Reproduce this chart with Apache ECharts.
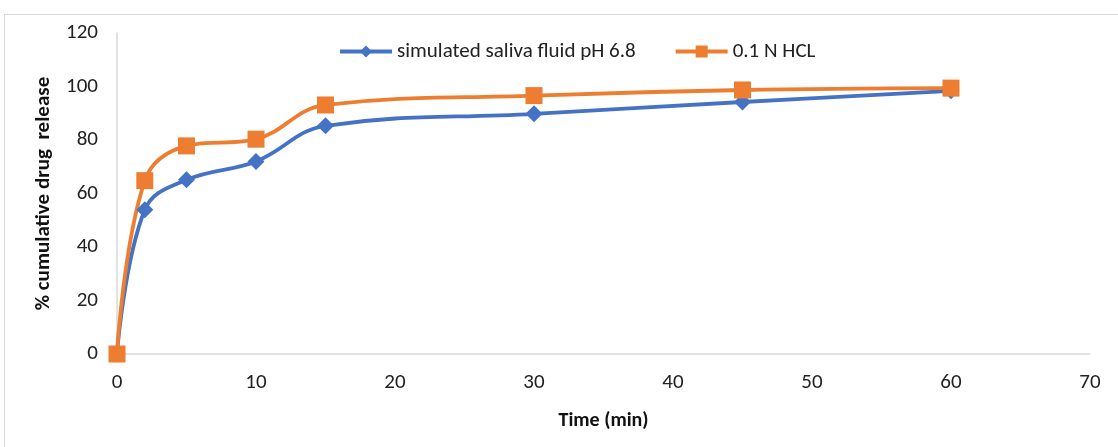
<!DOCTYPE html>
<html>
<head>
<meta charset="utf-8">
<script src="https://cdn.jsdelivr.net/npm/echarts@6/dist/echarts.min.js"></script>
<style>
    html, body { margin: 0; padding: 0; background: #fff; }
    #frame { position: absolute; left: 4px; top: 14px; width: 1130px; height: 450px; border: 1px solid #d9d9d9; }
    #e-main { position: absolute; left: 0; top: 0; width: 1118px; height: 447px; }
</style>
</head>
<body>
<div id="frame"></div>
<div id="e-main"></div>
<script>
// time points (min)
var timeMin = [0, 2, 5, 10, 15, 30, 45, 60];
// % cumulative drug release
var salivaRelease = [0, 53.9, 65.1, 72.0, 85.3, 89.8, 94.2, 98.4];
var hclRelease = [0, 64.8, 77.8, 80.3, 93.1, 96.6, 98.7, 99.4];
var seriesNames = ['simulated saliva fluid pH 6.8', '0.1 N HCL'];

var myChart = echarts.init(document.getElementById('e-main'));

function pairs(xs, ys) {
    var out = [];
    for (var i = 0; i < xs.length; i++) {
        out.push([xs[i], ys[i]]);
    }
    return out;
}

var font = 'Carlito, "Open Sans", "Liberation Sans", sans-serif';

var option = {
    animation: false,
    grid: { left: 117, top: 33, right: 28, bottom: 93 },
    legend: {
        top: 36,
        left: 333,
        itemGap: 38,
        itemWidth: 52,
        itemHeight: 15,
        lineStyle: { width: 4 },
        textStyle: { fontFamily: font, fontSize: 21, color: '#222' },
        data: seriesNames
    },
    xAxis: {
        type: 'value',
        min: 0,
        max: 70,
        interval: 10,
        name: 'Time (min)',
        nameLocation: 'middle',
        nameGap: 57,
        nameTextStyle: { fontFamily: font, fontSize: 20, fontWeight: 'bold', color: '#111' },
        axisLine: { show: true, lineStyle: { color: '#d9d9d9', width: 1.5 } },
        axisTick: { show: false },
        splitLine: { show: false },
        axisLabel: { fontFamily: font, fontSize: 21, color: '#222', margin: 18 }
    },
    yAxis: {
        type: 'value',
        min: 0,
        max: 120,
        interval: 20,
        name: '% cumulative drug  release',
        nameLocation: 'middle',
        nameGap: 63,
        nameTextStyle: { fontFamily: font, fontSize: 21, fontWeight: 'bold', color: '#111' },
        axisLine: { show: true, lineStyle: { color: '#d9d9d9', width: 1.5 } },
        axisTick: { show: false },
        splitLine: { show: false },
        axisLabel: { fontFamily: font, fontSize: 21, color: '#222', margin: 19 }
    },
    series: [
        {
            name: seriesNames[0],
            type: 'line',
            smooth: 0.4,
            symbol: 'diamond',
            symbolSize: 17,
            itemStyle: { color: '#4472c4' },
            lineStyle: { width: 3.8, color: '#4472c4' },
            data: pairs(timeMin, salivaRelease)
        },
        {
            name: seriesNames[1],
            type: 'line',
            smooth: 0.4,
            symbol: 'rect',
            symbolSize: 17,
            itemStyle: { color: '#ed7d31' },
            lineStyle: { width: 3.8, color: '#ed7d31' },
            data: pairs(timeMin, hclRelease)
        }
    ]
};

myChart.setOption(option, true);
</script>
</body>
</html>
